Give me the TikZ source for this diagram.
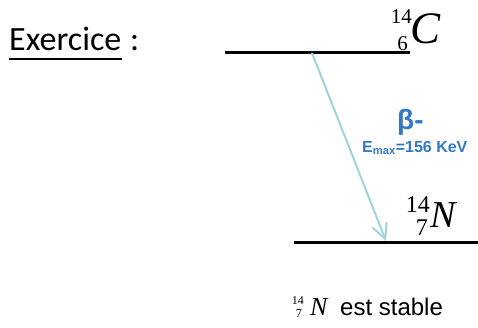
\documentclass[tikz,border=0pt]{standalone}
\usepackage{fontspec}
\usetikzlibrary{arrows.meta}
\setmainfont{Liberation Serif}
\newfontfamily\calib{Carlito}
\newfontfamily\arialf{Liberation Sans}
\definecolor{decay}{RGB}{160,212,218}
\definecolor{betab}{RGB}{50,120,200}

\tikzset{
  level/.style={line width=3pt, black},
  numtxt/.style={inner sep=0pt, font=\fontsize{#1}{#1}\selectfont},
  symtxt/.style={inner sep=0pt, font=\fontsize{#1}{#1}\selectfont\itshape},
}

\begin{document}
\begin{tikzpicture}[x=1pt, y=-1pt]
  \useasboundingbox (0,0) rectangle (478,327);
  % titre
  \node[inner sep=0pt, anchor=base west, font=\calib\fontsize{34}{34}\selectfont] (exo) at (9,50) {Exercice};
  \node[inner sep=0pt, anchor=base west, font=\calib\fontsize{34}{34}\selectfont] (colon) at (130,50) {:};
  \draw[line width=2pt] ([yshift=-9pt]exo.base west) -- ([yshift=-9pt]exo.base east);
  % niveaux
  \draw[level] (225,52) coordinate (cl) -- (410,52) coordinate (cr);
  \draw[level] (294,242) coordinate (nl) -- (478,242) coordinate (nr);
  \coordinate (cdep) at (312,53);
  \coordinate (narr) at (386,241);
  % noyaux
  \node[symtxt=45, anchor=base west] (csym) at (410,43) {C};
  \node[numtxt=21, anchor=base east] (cmass) at (412,23) {14};
  \node[numtxt=21, anchor=base east] (cz) at (408,50) {6};
  \node[symtxt=38, anchor=base west] (nsym) at (430,227) {N};
  \node[numtxt=24, anchor=base east] (nmass) at (430,212) {14};
  \node[numtxt=24, anchor=base east] (nz) at (428,235) {7};
  % transition beta
  \draw[decay, line width=2pt, -{Straight Barb[length=15pt, width=15pt]}] (cdep) -- (narr);
  \node[inner sep=0pt, anchor=base west, text=betab, font=\arialf\bfseries\fontsize{28}{28}\selectfont] (beta) at (397,129) {β-};
  \node[inner sep=0pt, anchor=base west, text=betab, font=\arialf\bfseries\fontsize{16}{16}\selectfont] (emax) at (362,152) {E\textsubscript{max}=156 KeV};
  % legende
  \node[numtxt=12, anchor=base east] (bmass) at (304,304) {14};
  \node[numtxt=12, anchor=base east] (bz) at (302,317) {7};
  \node[symtxt=26, anchor=base west] (bsym) at (310,315) {N};
  \node[inner sep=0pt, anchor=base west, font=\arialf\fontsize{24}{24}\selectfont] (stab) at (340,315) {est stable};
\end{tikzpicture}
\end{document}
